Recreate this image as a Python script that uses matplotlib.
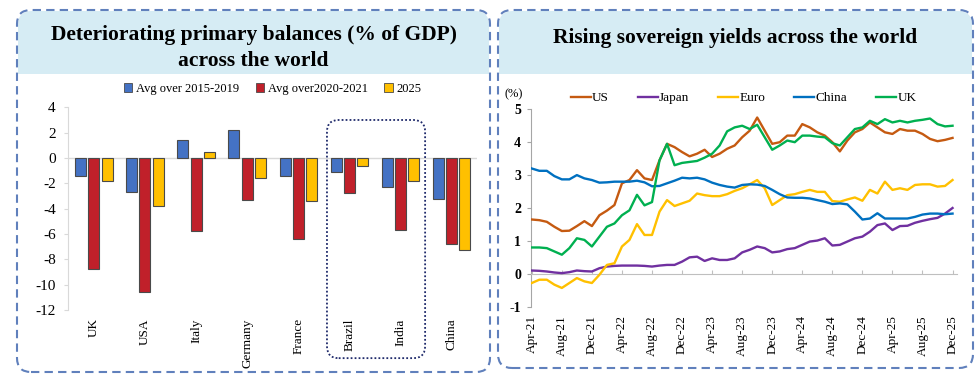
import numpy as np
import pandas as pd
import matplotlib
matplotlib.use('Agg')
import matplotlib.pyplot as plt
from matplotlib.patches import FancyBboxPatch, Rectangle, Patch
from matplotlib.transforms import IdentityTransform

plt.rcParams['axes.unicode_minus'] = False

# --- datos del panel izquierdo: balance primario (% del PIB)
paises = ['UK', 'USA', 'Italy', 'Germany', 'France', 'Brazil', 'India', 'China']
prom_2015_2019 = [-1.4, -2.7, 1.4, 2.2, -1.4, -1.1, -2.3, -3.2]
prom_2020_2021 = [-8.8, -10.6, -5.8, -3.3, -6.4, -2.8, -5.7, -6.8]
anio_2025 = [-1.8, -3.8, 0.5, -1.6, -3.4, -0.6, -1.8, -7.3]
series_barras = ['Avg over 2015-2019', 'Avg over2020-2021', '2025']

# --- datos del panel derecho: rendimientos soberanos (%), mensual abr-21 a dic-25
meses = pd.date_range('2021-04-01', '2025-12-01', freq='MS')
us = [1.65, 1.63, 1.58, 1.43, 1.30, 1.31, 1.45, 1.60, 1.45, 1.78, 1.92, 2.09,
      2.75, 2.85, 3.15, 2.90, 2.85, 3.45, 3.95, 3.85, 3.70, 3.57, 3.65, 3.77,
      3.55, 3.65, 3.80, 3.90, 4.15, 4.35, 4.75, 4.35, 3.95, 4.00, 4.20, 4.20,
      4.55, 4.45, 4.30, 4.20, 4.00, 3.72, 4.05, 4.30, 4.40, 4.60, 4.45, 4.30,
      4.25, 4.40, 4.35, 4.35, 4.25, 4.10, 4.03, 4.07, 4.13]
japon = [0.10, 0.09, 0.07, 0.04, 0.02, 0.05, 0.10, 0.08, 0.07, 0.17, 0.22, 0.24,
         0.25, 0.25, 0.25, 0.24, 0.22, 0.25, 0.27, 0.27, 0.37, 0.50, 0.52, 0.39,
         0.47, 0.42, 0.42, 0.47, 0.65, 0.73, 0.83, 0.78, 0.65, 0.68, 0.75, 0.78,
         0.88, 0.98, 1.01, 1.08, 0.86, 0.88, 0.98, 1.08, 1.13, 1.28, 1.48, 1.53,
         1.33, 1.45, 1.46, 1.55, 1.61, 1.66, 1.70, 1.83, 2.00]
euro = [-0.28, -0.18, -0.18, -0.33, -0.43, -0.28, -0.13, -0.23, -0.28, -0.03, 0.27, 0.32,
        0.83, 1.03, 1.51, 1.18, 1.18, 1.89, 2.24, 2.06, 2.14, 2.22, 2.44, 2.39,
        2.36, 2.36, 2.42, 2.52, 2.60, 2.72, 2.85, 2.60, 2.09, 2.24, 2.39, 2.42,
        2.49, 2.55, 2.49, 2.49, 2.21, 2.19, 2.26, 2.32, 2.22, 2.55, 2.44, 2.80,
        2.55, 2.60, 2.55, 2.70, 2.72, 2.72, 2.65, 2.67, 2.85]
china = [3.20, 3.13, 3.13, 2.97, 2.87, 2.87, 3.00, 2.90, 2.85, 2.77, 2.78, 2.80,
         2.80, 2.80, 2.83, 2.78, 2.66, 2.67, 2.75, 2.83, 2.92, 2.90, 2.92, 2.87,
         2.77, 2.70, 2.65, 2.62, 2.70, 2.72, 2.71, 2.67, 2.55, 2.42, 2.32, 2.31,
         2.31, 2.29, 2.24, 2.19, 2.12, 2.14, 2.11, 1.89, 1.65, 1.68, 1.84, 1.68,
         1.68, 1.68, 1.68, 1.73, 1.80, 1.83, 1.83, 1.81, 1.83]
uk = [0.80, 0.80, 0.78, 0.68, 0.58, 0.78, 1.08, 1.03, 0.83, 1.13, 1.43, 1.53,
      1.78, 1.93, 2.40, 2.08, 2.18, 3.45, 3.95, 3.30, 3.37, 3.40, 3.43, 3.53,
      3.65, 3.90, 4.33, 4.45, 4.50, 4.40, 4.53, 4.15, 3.77, 3.90, 4.05, 4.00,
      4.20, 4.20, 4.17, 4.15, 3.97, 3.90, 4.15, 4.40, 4.45, 4.65, 4.55, 4.70,
      4.60, 4.65, 4.60, 4.65, 4.68, 4.72, 4.55, 4.48, 4.50]
nombres_lineas = ['US', 'Japan', 'Euro', 'China', 'UK']

col_barras = ['#4472C4', '#C0202A', '#FFC000']
col_lineas = ['#C55A11', '#7030A0', '#FFC000', '#0070C0', '#00B050']
borde = '#6080BC'
cabecera = '#D6ECF4'
serif = ['Liberation Serif', 'DejaVu Serif']

fig = plt.figure(figsize=(9.8, 3.8), dpi=100)
H = 380

def caja(x0, y0, x1, y1, titulo, y_titulo):
    # caja de fondo, cabecera azul clara y borde punteado redondeado (coordenadas en pixeles)
    ident = IdentityTransform()
    r = 14
    fig.add_artist(FancyBboxPatch((x0, H - y1), x1 - x0, y1 - y0,
                                  boxstyle=f'round,pad=0,rounding_size={r}',
                                  transform=ident, fc='white', ec='none', zorder=0))
    fig.add_artist(FancyBboxPatch((x0 + 1, H - 74), x1 - x0 - 2, 74 - y0 - 1,
                                  boxstyle=f'round,pad=0,rounding_size={r}',
                                  transform=ident, fc=cabecera, ec='none', zorder=0.5))
    fig.add_artist(Rectangle((x0 + 1, H - 74), x1 - x0 - 2, 30,
                             transform=ident, fc=cabecera, ec='none', zorder=0.5))
    fig.add_artist(FancyBboxPatch((x0, H - y1), x1 - x0, y1 - y0,
                                  boxstyle=f'round,pad=0,rounding_size={r}',
                                  transform=ident, fc='none', ec=borde, lw=1.5,
                                  ls=(0, (4, 2.5)), zorder=5))
    fig.text(((x0 + x1) / 2) / 980, 1 - y_titulo / H, titulo, ha='center', va='center',
             fontsize=15.5, fontweight='bold', family=serif, linespacing=1.45)

caja(17, 10, 490, 372, 'Deteriorating primary balances (% of GDP)\nacross the world', 48)
caja(498, 10, 973, 368, 'Rising sovereign yields across the world', 38)

# ---------------- panel izquierdo ----------------
ax1 = fig.add_axes([0.0697, 0.1842, 0.4173, 0.5334])
ax1.patch.set_alpha(0)
x = np.arange(len(paises))
ancho = 0.215
sep = 0.26
for k, vals in enumerate([prom_2015_2019, prom_2020_2021, anio_2025]):
    ax1.bar(x + (k - 1) * sep, vals, ancho, color=col_barras[k], edgecolor='#4A4A4A',
            linewidth=0.8, label=series_barras[k], zorder=3)
ax1.axhline(0, color='#D9D9D9', lw=1, zorder=1)
ax1.set_xlim(-0.5, len(paises) - 0.5)
ax1.set_ylim(-12, 4)
ax1.set_yticks(np.arange(-12, 5, 2))
ax1.set_xticks(x)
ax1.set_xticklabels(paises, rotation=90, family=serif, fontsize=9.5, va='top')
ax1.tick_params(axis='x', length=0, pad=6)
ax1.tick_params(axis='y', length=3, color='#D9D9D9', labelsize=11, pad=6)
for lab in ax1.get_yticklabels():
    lab.set_family(serif)
for s in ['top', 'right', 'bottom']:
    ax1.spines[s].set_visible(False)
ax1.spines['left'].set_color('#D9D9D9')

# recuadro punteado sobre Brazil e India
ax1.add_patch(FancyBboxPatch((4.56, -15.8), 1.92, 18.8,
                             boxstyle='round,pad=0,rounding_size=0.23', mutation_aspect=4.1,
                             transform=ax1.transData, fc='none', ec='#1F2A6B', lw=1.3,
                             ls=(0, (1, 1.2)), clip_on=False, zorder=4))

manejadores = [Patch(facecolor=c, edgecolor='#4A4A4A', linewidth=0.6) for c in col_barras]
ax1.legend(manejadores, series_barras, loc='center', bbox_to_anchor=(0.5, 1.09), ncol=3,
           frameon=False, handlelength=0.7, handleheight=0.7, handletextpad=0.3,
           columnspacing=1.3, prop={'family': serif, 'size': 9})

# ---------------- panel derecho ----------------
ax2 = fig.add_axes([0.5415, 0.1929, 0.4347, 0.5195])
ax2.patch.set_alpha(0)
t = np.arange(len(meses))
for vals, nom, c in zip([us, japon, euro, china, uk], nombres_lineas, col_lineas):
    ax2.plot(t, vals, color=c, lw=1.7, label=nom, zorder=3)
ax2.set_xlim(-0.15, len(meses) - 0.45)
ax2.set_ylim(-1, 5)
ax2.set_yticks(np.arange(-1, 6, 1))
ax2.tick_params(axis='y', length=3, color='#A6A6A6', labelsize=10, pad=4)
for lab in ax2.get_yticklabels():
    lab.set_family(serif)
    lab.set_fontweight('bold')
for s in ['top', 'right']:
    ax2.spines[s].set_visible(False)
ax2.spines['left'].set_color('#A6A6A6')
ax2.spines['bottom'].set_position(('data', 0))
ax2.spines['bottom'].set_color('#BFBFBF')
pos = t[::4]
ax2.set_xticks(pos)
ax2.set_xticklabels([])
ax2.tick_params(axis='x', direction='in', length=3, color='#BFBFBF')

# etiquetas del eje x abajo
sec = ax2.secondary_xaxis('bottom')
sec.set_xticks(pos)
sec.set_xticklabels([m.strftime('%b-%y') for m in meses[::4]], rotation=90,
                    family=serif, fontsize=9.5)
sec.tick_params(length=0, pad=6)
sec.spines['bottom'].set_visible(False)

ax2.text(-0.04, 1.077, '(%)', transform=ax2.transAxes, ha='center', va='center',
         family=serif, fontsize=9)
ax2.legend(loc='center', bbox_to_anchor=(0.5, 1.057), ncol=5, frameon=False,
           handlelength=1.5, handletextpad=0.1, columnspacing=2.2,
           prop={'family': serif, 'size': 9.5})

fig.savefig('out.png', dpi=100)
